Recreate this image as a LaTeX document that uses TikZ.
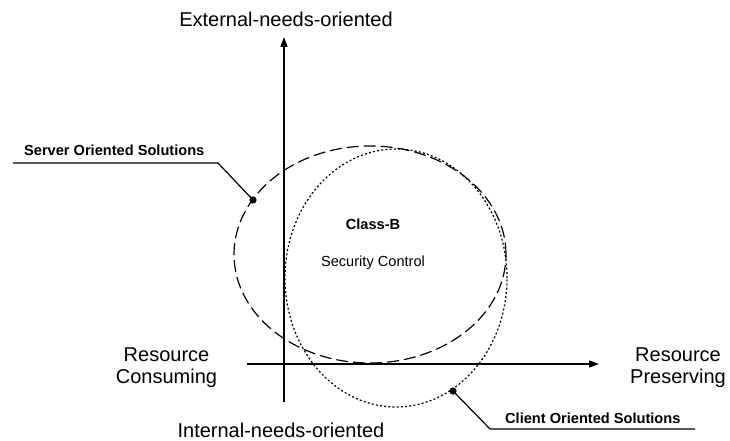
\documentclass[tikz,border=0pt]{standalone}
\usepackage{fontspec}
\setmainfont{Liberation Sans}
\usetikzlibrary{arrows.meta,shapes.geometric}
\begin{document}
\begin{tikzpicture}[x=1pt,y=-1pt,
  axis/.style={line width=1.3pt,-{Triangle[length=10pt,width=7pt]}},
  biglabel/.style={font=\fontsize{20}{22.5}\selectfont,inner sep=0pt,align=center},
  smallbold/.style={font=\fontsize{14.6}{17}\selectfont\bfseries,inner sep=0pt},
  smalltext/.style={font=\fontsize{14.6}{17}\selectfont,inner sep=0pt},
  leader/.style={line width=1.2pt},
  dotmark/.style={fill=black},
  serverell/.style={ellipse,draw,line width=1.2pt,dash pattern=on 12pt off 5pt,minimum width=272pt,minimum height=217pt,inner sep=0pt},
  clientell/.style={ellipse,draw,line width=1.2pt,dash pattern=on 2pt off 2.2pt,minimum width=222pt,minimum height=258pt,inner sep=0pt}]
\useasboundingbox (0,0) rectangle (730,441);
% axes
\coordinate (vb) at (284,402);
\coordinate (vt) at (284,37);
\coordinate (hl) at (247,364);
\coordinate (hr) at (599,364);
\draw[axis] (vb) -- (vt);
\draw[axis] (hl) -- (hr);
% ellipses
\node[serverell] (srv) at (370,254.5) {};
\node[clientell] (cli) at (396,278) {};
% leaders
\coordinate (sdot) at (253,200);
\coordinate (sbend) at (218,163);
\coordinate (send) at (13,163);
\draw[leader] (sdot) -- (sbend) -- (send);
\fill[dotmark] (sdot) circle (3.6pt);
\coordinate (cdot) at (453,391);
\coordinate (cbend) at (490,429);
\coordinate (cend) at (695,429);
\draw[leader] (cdot) -- (cbend) -- (cend);
\fill[dotmark] (cdot) circle (3.6pt);
% labels
\node[smallbold,anchor=base west] (slab) at (24,155) {Server Oriented Solutions};
\node[smallbold,anchor=base west] (clab) at (505,423) {Client Oriented Solutions};
\node[smallbold,anchor=base] (classb) at (373,229) {Class-B};
\node[smalltext,anchor=base] (sec) at (373,266) {Security Control};
\node[biglabel,anchor=base] (ext) at (286,27) {External-needs-oriented};
\node[biglabel,anchor=base] (int) at (281,437) {Internal-needs-oriented};
\node[biglabel,anchor=base] (rc) at (166.5,383.5) {Resource\\Consuming};
\node[biglabel,anchor=base] (rp) at (678,383.5) {Resource\\Preserving};
\end{tikzpicture}
\end{document}
